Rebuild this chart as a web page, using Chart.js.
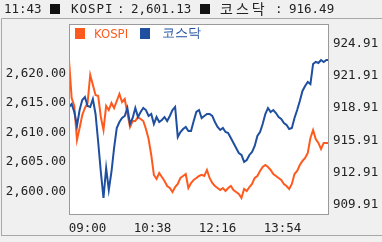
<!DOCTYPE html>
<html>
<head>
<meta charset="utf-8">
<script src="https://cdn.jsdelivr.net/npm/chart.js@4.4.0/dist/chart.umd.min.js"></script>
<style>
  html, body { margin: 0; padding: 0; background: #f0f0f0; }
  #wrap { position: relative; width: 382px; height: 242px; overflow: hidden; }
  #chart { position: absolute; left: 0; top: 0; }
  .t { position: absolute; font-family: 'DejaVu Sans Mono', monospace; font-size: 12.5px; line-height: 14px; color: #222; white-space: pre; }
  .k { font-family: 'Noto Sans CJK KR', sans-serif; font-size: 13px; }
  .lg { position: absolute; font-family: 'Liberation Sans Narrow', 'DejaVu Sans Condensed', sans-serif; font-size: 13px; line-height: 14px; white-space: pre; }
  .sq { position: absolute; }
</style>
</head>
<body>
<div id="wrap">
  <canvas id="chart" width="382" height="242"></canvas>

  <!-- header line -->
  <div class="t" style="left:4px;top:2px">11:43</div>
  <div class="sq" style="left:50px;top:4px;width:10px;height:10px;background:#111"></div>
  <div class="t" style="left:71px;top:2px;letter-spacing:1px">KOSPI</div>
  <div class="t" style="left:117px;top:2px">:</div>
  <div class="t" style="left:131px;top:2px">2,601.13</div>
  <div class="sq" style="left:200px;top:4px;width:10px;height:10px;background:#111"></div>
  <div class="t k" style="left:220px;top:1px;font-size:14px;letter-spacing:3px">코스닥</div>
  <div class="t" style="left:275px;top:2px">:</div>
  <div class="t" style="left:289px;top:2px">916.49</div>

  <!-- legend -->
  <div class="sq" style="left:75px;top:28px;width:10px;height:11px;background:#ff5a1e"></div>
  <div class="lg" style="left:94px;top:27px;color:#ff5a1e">KOSPI</div>
  <div class="sq" style="left:140px;top:28px;width:10px;height:11px;background:#1f4f9f"></div>
  <div class="lg k" style="left:162px;top:26px;color:#1f4f9f">코스닥</div>
</div>
<script>
// minutes since midnight (09:00 = 540)
var times = [
  512, 516, 520, 524, 528, 532, 536, 540, 544, 548,
  552, 556, 560, 564, 568, 572, 576, 580, 584, 588,
  592, 596, 600, 604, 608, 612, 616, 620, 624, 628,
  632, 636, 640, 644, 648, 652, 656, 660, 664, 668,
  672, 676, 680, 684, 688, 692, 696, 700, 704, 708,
  712, 716, 720, 724, 728, 732, 736, 740, 744, 748,
  752, 756, 760, 764, 768, 772, 776, 780, 784, 788,
  792, 796, 800, 804, 808, 812, 816, 820, 824, 828,
  832, 836, 840, 844, 848, 852, 856, 860, 864, 868,
  872, 876, 880, 884, 888, 892, 896, 900, 904
];

var kospi = [
  2622.25, 2615.83, 2614.48, 2608.73, 2610.76, 2612.96, 2614.14, 2614.98, 2619.71, 2618.02,
  2616.34, 2616.17, 2612.62, 2610.42, 2614.48, 2613.80, 2614.98, 2614.14, 2615.32, 2616.51,
  2615.15, 2615.66, 2613.29, 2610.93, 2611.94, 2611.94, 2612.62, 2612.28, 2611.94, 2610.59,
  2608.90, 2606.20, 2602.83, 2602.15, 2603.16, 2602.48, 2601.81, 2600.96, 2600.62, 2599.95,
  2600.79, 2601.30, 2602.32, 2602.65, 2602.99, 2600.62, 2601.47, 2601.98, 2602.32, 2602.65,
  2602.83, 2602.65, 2603.67, 2602.32, 2601.47, 2600.96, 2600.62, 2600.29, 2600.62, 2600.12,
  2600.62, 2600.96, 2600.29, 2599.95, 2599.61, 2598.94, 2600.46, 2600.12, 2600.79, 2601.30,
  2602.32, 2602.65, 2603.50, 2604.17, 2604.51, 2604.17, 2603.67, 2602.99, 2602.65, 2602.32,
  2601.98, 2601.30, 2600.96, 2600.46, 2601.30, 2602.99, 2603.50, 2604.51, 2605.19, 2605.69,
  2606.54, 2609.07, 2610.42, 2608.90, 2608.23, 2607.21, 2608.23, 2608.23, 2608.23
];

var kosdaq = [
  919.00, 919.28, 918.54, 917.24, 918.72, 919.65, 919.93, 919.09, 919.00, 919.74,
  918.35, 915.75, 912.97, 910.56, 913.34, 911.30, 912.97, 915.20, 917.05, 917.61,
  917.98, 918.17, 918.91, 917.42, 917.98, 918.91, 918.07, 918.54, 918.91, 918.72,
  918.17, 918.35, 917.42, 918.07, 917.61, 917.80, 918.07, 917.70, 918.17, 918.72,
  919.00, 916.22, 916.68, 916.96, 917.15, 916.77, 916.77, 917.70, 918.54, 918.72,
  917.98, 918.17, 918.35, 918.35, 918.17, 917.61, 917.15, 916.87, 917.05, 916.68,
  916.59, 916.13, 915.66, 915.20, 914.73, 914.55, 913.90, 914.08, 914.55, 914.83,
  915.38, 916.31, 916.68, 917.42, 918.35, 918.91, 918.54, 918.72, 918.44, 918.07,
  917.89, 917.52, 917.33, 916.96, 917.05, 917.98, 918.72, 919.56, 920.49, 920.95,
  921.32, 921.13, 922.99, 923.18, 923.08, 923.36, 923.18, 923.36, 923.36
];

var xTicks = [540, 638, 736, 834];
var kospiTicks = [2600, 2605, 2610, 2615, 2620];
var kosdaqTicks = [909.91, 912.91, 915.91, 918.91, 921.91, 924.91];

var ORANGE = '#ff5a1e';
var BLUE = '#1f4f9f';
var tickFont = { family: "'DejaVu Sans Mono', monospace", size: 12.5 };

function hhmm(v) {
  var h = Math.floor(v / 60), m = v % 60;
  return (h < 10 ? '0' : '') + h + ':' + (m < 10 ? '0' : '') + m;
}

// gray page, white plot box, thin frame lines
var frame = {
  id: 'frame',
  beforeDraw: function(chart) {
    var ctx = chart.ctx, a = chart.chartArea;
    ctx.save();
    ctx.fillStyle = '#f0f0f0';
    ctx.fillRect(0, 0, chart.width, chart.height);
    ctx.strokeStyle = '#a8a8a8';
    ctx.lineWidth = 1;
    ctx.beginPath();
    ctx.moveTo(1.5, 236); ctx.lineTo(1.5, 18.5); ctx.lineTo(382, 18.5);
    ctx.moveTo(1.5, 235.5); ctx.lineTo(382, 235.5);
    ctx.stroke();
    ctx.fillStyle = '#ffffff';
    ctx.fillRect(a.left, a.top, a.right - a.left, a.bottom - a.top);
    ctx.restore();
  },
  afterDraw: function(chart) {
    var ctx = chart.ctx, a = chart.chartArea;
    ctx.save();
    ctx.strokeStyle = '#9a9a9a';
    ctx.lineWidth = 1;
    ctx.strokeRect(a.left + 0.5, a.top + 0.5, a.right - a.left - 1, a.bottom - a.top - 1);
    ctx.restore();
  }
};

new Chart(document.getElementById('chart'), {
  type: 'line',
  data: {
    datasets: [{
      label: 'KOSPI',
      data: times.map(function(t, i) { return { x: t, y: kospi[i] }; }),
      yAxisID: 'y',
      borderColor: ORANGE,
      borderWidth: 2,
      pointRadius: 0,
      tension: 0,
      order: 1
    }, {
      label: '코스닥',
      data: times.map(function(t, i) { return { x: t, y: kosdaq[i] }; }),
      yAxisID: 'y1',
      borderColor: BLUE,
      borderWidth: 2,
      pointRadius: 0,
      tension: 0,
      order: 0
    }]
  },
  options: {
    responsive: false,
    animation: false,
    devicePixelRatio: 1,
    layout: { padding: { top: 24, left: 0, right: 0, bottom: 0 } },
    plugins: { legend: { display: false }, tooltip: { enabled: false } },
    scales: {
      x: {
        type: 'linear', min: 512, max: 904,
        grid: { display: false, drawTicks: false },
        border: { display: false },
        afterBuildTicks: function(s) { s.ticks = xTicks.map(function(v) { return { value: v }; }); },
        afterFit: function(s) { s.height = 27; },
        ticks: { padding: 6, maxRotation: 0, autoSkip: false, font: tickFont, color: '#222',
                 callback: function(v) { return hhmm(v); } }
      },
      y: {
        position: 'left', min: 2596.06, max: 2628.33,
        grid: { display: false, drawTicks: false },
        border: { display: false },
        afterBuildTicks: function(s) { s.ticks = kospiTicks.map(function(v) { return { value: v }; }); },
        afterFit: function(s) { s.width = 69; },
        ticks: { padding: 3, font: tickFont, color: '#222',
                 callback: function(v) { return v.toLocaleString('en-US', { minimumFractionDigits: 2, maximumFractionDigits: 2 }); } }
      },
      y1: {
        position: 'right', min: 908.98, max: 926.70,
        grid: { display: false, drawTicks: false },
        border: { display: false },
        afterBuildTicks: function(s) { s.ticks = kosdaqTicks.map(function(v) { return { value: v }; }); },
        afterFit: function(s) { s.width = 53; },
        ticks: { padding: 4, font: tickFont, color: '#222',
                 callback: function(v) { return v.toFixed(2); } }
      }
    }
  },
  plugins: [frame]
});
</script>
</body>
</html>
